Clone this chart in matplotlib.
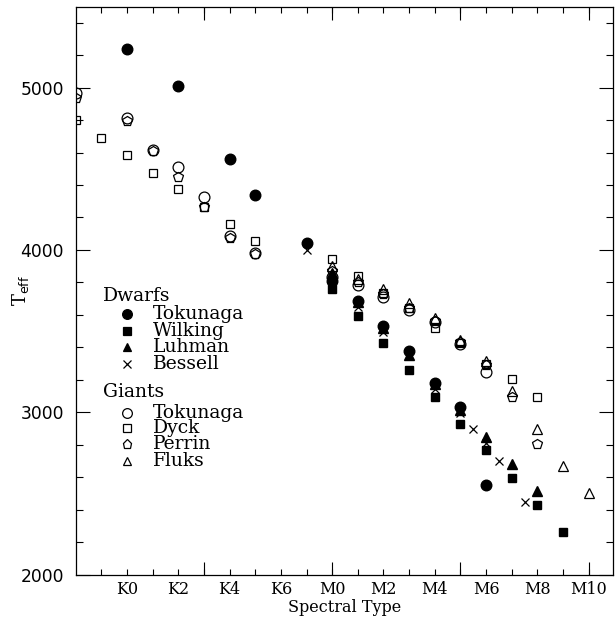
import matplotlib
matplotlib.use("Agg")
import matplotlib.pyplot as plt
from matplotlib.ticker import FixedLocator, MultipleLocator

# ---- data (x: K0=0 ... K7=7, M0=8 ... M10=18; G8=-2, G9=-1) ----
tick_pos = [0, 2, 4, 6, 8, 10, 12, 14, 16, 18]
tick_labels = ["K0", "K2", "K4", "K6", "M0", "M2", "M4", "M6", "M8", "M10"]

# Dwarfs
tok_d_x = [0, 2, 4, 5, 7, 8, 9, 10, 11, 12, 13, 14]
tok_d_t = [5240, 5010, 4560, 4340, 4040, 3810, 3685, 3530, 3380, 3180, 3030, 2550]
wil_x = [8, 9, 10, 11, 12, 13, 14, 15, 16, 17]
wil_t = [3762, 3593, 3424, 3260, 3095, 2926, 2765, 2595, 2430, 2263]
luh_x = [8, 9, 10, 11, 12, 13, 14, 15, 16]
luh_t = [3860, 3680, 3520, 3352, 3175, 3015, 2848, 2679, 2512]
bes_x = [7, 8, 9, 10, 11, 12, 13, 13.5, 14, 14.5, 15.5]
bes_t = [4000, 3800, 3646, 3492, 3346, 3142, 2994, 2899, 2811, 2698, 2446]

# Giants
tok_g_x = [-2, 0, 1, 2, 3, 4, 5, 8, 9, 10, 11, 12, 13, 14]
tok_g_t = [4965, 4815, 4613, 4510, 4329, 4085, 3979, 3833, 3784, 3712, 3630, 3558, 3420, 3248]
dyck_x = [-2, -1, 0, 1, 2, 3, 4, 5, 8, 9, 10, 11, 12, 13, 14, 15, 16]
dyck_t = [4800, 4689, 4582, 4477, 4374, 4267, 4159, 4058, 3944, 3841, 3735, 3640, 3521, 3425, 3300, 3202, 3095]
per_x = [-2, 0, 1, 2, 3, 4, 5, 8, 9, 10, 11, 12, 13, 14, 15, 16]
per_t = [4936, 4795, 4610, 4452, 4262, 4072, 3975, 3870, 3800, 3728, 3640, 3564, 3430, 3288, 3091, 2807]
fluks_x = [8, 9, 10, 11, 12, 13, 14, 15, 16, 17, 18]
fluks_t = [3903, 3821, 3757, 3671, 3578, 3444, 3315, 3130, 2895, 2671, 2504]

# ---- figure ----
W, H = 615, 617
fig = plt.figure(figsize=(W / 100, H / 100), dpi=100)
ax_l, ax_r, ax_t, ax_b = 75.7, 613.3, 6.5, 574.5
ax = fig.add_axes([ax_l / W, (H - ax_b) / H, (ax_r - ax_l) / W, (ax_b - ax_t) / H])

serif = "DejaVu Serif"
plt.rcParams["mathtext.fontset"] = "dejavuserif"

k = "black"
# giants (open)
ax.plot(tok_g_x, tok_g_t, "o", ms=7.8, mfc="none", mec=k, mew=0.9, ls="none")
ax.plot(dyck_x, dyck_t, "s", ms=6.0, mfc="none", mec=k, mew=0.9, ls="none")
ax.plot(per_x, per_t, "p", ms=7.2, mfc="none", mec=k, mew=0.9, ls="none")
ax.plot(fluks_x, fluks_t, "^", ms=6.8, mfc="none", mec=k, mew=0.9, ls="none")
# dwarfs (filled)
ax.plot(bes_x, bes_t, "x", ms=6.0, mec=k, mew=0.9, ls="none")
ax.plot(luh_x, luh_t, "^", ms=6.8, mfc=k, mec=k, ls="none")
ax.plot(wil_x, wil_t, "s", ms=5.8, mfc=k, mec=k, ls="none")
ax.plot(tok_d_x, tok_d_t, "o", ms=7.6, mfc=k, mec=k, ls="none")

ax.set_xlim(-2.0, 18.96)
ax.set_ylim(2000, 5500)

# x ticks: long major ticks every 5 subtypes, short minor at every subtype (labelled)
ax.xaxis.remove_overlapping_locs = False
ax.xaxis.set_major_locator(FixedLocator([3, 8, 13, 18]))
ax.set_xticklabels(["", "", "", ""])
ax.set_xticks(tick_pos + [-1, 1, 3, 5, 7, 9, 11, 13, 15, 17], minor=True)
ax.set_xticklabels(tick_labels + [""] * 10, minor=True, fontfamily=serif, fontsize=11.5)

ax.yaxis.set_major_locator(MultipleLocator(1000))
ax.yaxis.set_minor_locator(MultipleLocator(200))
for lab in ax.get_yticklabels():
    lab.set_fontfamily("DejaVu Sans")
    lab.set_fontsize(12.3)

ax.tick_params(which="both", direction="in", top=True, right=True, width=0.8, color=k)
ax.tick_params(axis="x", which="major", length=9.2, pad=4)
ax.tick_params(axis="x", which="minor", length=4.6, pad=4.5, labelsize=11.5)
ax.tick_params(axis="y", which="major", length=10, pad=8.5, labelsize=12.3)
ax.tick_params(axis="y", which="minor", length=5)
for s in ax.spines.values():
    s.set_linewidth(0.9)

# ---- legend / label helpers (axes coordinates) ----
def fx(px):
    return (px - ax_l) / (ax_r - ax_l)

def fy(py):
    return (ax_b - py) / (ax_b - ax_t)

ax.set_xlabel("Spectral Type", fontfamily=serif, fontsize=11.5, labelpad=1)
ax.set_ylabel(r"T$_{\rm eff}$", fontfamily=serif, fontsize=13)
ax.yaxis.set_label_coords(fx(31), 0.5)

tr = ax.transAxes
leg_fs = 13.5
ax.text(fx(103), fy(296), "Dwarfs", transform=tr, fontfamily=serif, fontsize=leg_fs, va="center", ha="left")
ax.text(fx(103), fy(392), "Giants", transform=tr, fontfamily=serif, fontsize=leg_fs, va="center", ha="left")
entries = [
    (314.3, "o", k, 7.0, "Tokunaga"),
    (330.7, "s", k, 5.2, "Wilking"),
    (346.7, "^", k, 6.0, "Luhman"),
    (364.3, "x", k, 5.5, "Bessell"),
    (412.7, "o", "none", 7.0, "Tokunaga"),
    (428.3, "s", "none", 5.5, "Dyck"),
    (444.0, "p", "none", 6.5, "Perrin"),
    (460.7, "^", "none", 6.0, "Fluks"),
]
for py, m, fc, ms, name in entries:
    ax.plot([fx(127)], [fy(py)], m, transform=tr, ms=ms, mfc=fc, mec=k, mew=0.9, clip_on=False)
    ax.text(fx(153), fy(py), name, transform=tr, fontfamily=serif, fontsize=leg_fs, va="center", ha="left")

fig.savefig("out.png", dpi=100)
